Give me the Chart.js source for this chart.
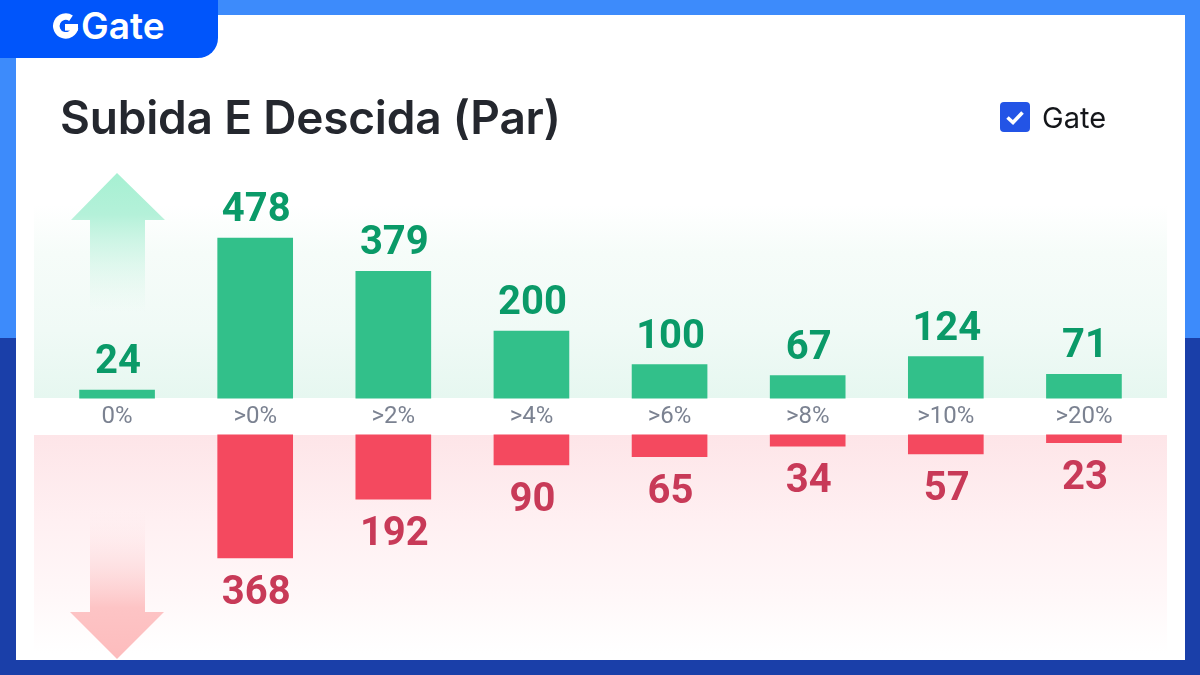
<!DOCTYPE html>
<html>
<head>
<meta charset="utf-8">
<title>Subida E Descida (Par)</title>
<script src="https://cdn.jsdelivr.net/npm/chart.js@4"></script>
<style>
    html, body { margin: 0; padding: 0; }
    body { width: 1200px; height: 675px; position: relative; overflow: hidden; background: linear-gradient(#3d8bfb 0 338px, #1a3fa9 338px); font-family: Inter, sans-serif; }
    .card { position: absolute; left: 16px; top: 15px; width: 1169px; height: 645px; background: #fff; }
    .tab { position: absolute; left: 0; top: 0; width: 218px; height: 58px; background: #0055fb; border-bottom-right-radius: 20px; }
    .brand { position: absolute; left: 81px; top: 7px; color: #fff; font-size: 37px; font-weight: 600; line-height: 38px; letter-spacing: 0; }
    h1 { position: absolute; left: 60px; top: 87px; margin: 0; font-size: 46px; line-height: 60px; font-weight: 600; color: #24272e; letter-spacing: -0.2px; white-space: nowrap; }
    .check { position: absolute; left: 1000px; top: 102px; width: 30px; height: 30px; background: #2354e6; border-radius: 4px; }
    .legend { position: absolute; left: 1042px; top: 100px; font-size: 29px; line-height: 36px; color: #14161a; }
    .band { position: absolute; left: 34px; width: 1133px; }
    .band.up { top: 205px; height: 193px; background: linear-gradient(rgba(246,252,249,0), #f6fcf9 25%, #f0faf6 65%, #e6f7f0); }
    .band.down { top: 435px; height: 218px; background: linear-gradient(#fde5e8, #fff0f2 40%, #fff7f8 72%, rgba(255,247,248,0)); }
    svg.deco { position: absolute; left: 0; top: 0; }
    canvas { position: absolute; left: 0; top: 0; }
</style>
</head>
<body>
<div class="card"></div>
<div class="band up"></div>
<div class="band down"></div>
<svg class="deco" width="1200" height="675">
    <defs>
        <linearGradient id="fadeUp" gradientUnits="userSpaceOnUse" x1="0" y1="173" x2="0" y2="312">
            <stop offset="0" stop-color="#a6f0d2"/>
            <stop offset="0.3" stop-color="#b4f1d9"/>
            <stop offset="1" stop-color="#d8f5e9" stop-opacity="0"/>
        </linearGradient>
        <linearGradient id="fadeDown" gradientUnits="userSpaceOnUse" x1="0" y1="659" x2="0" y2="512">
            <stop offset="0" stop-color="#fdbcbd"/>
            <stop offset="0.35" stop-color="#fdc4c5"/>
            <stop offset="1" stop-color="#fde4e7" stop-opacity="0"/>
        </linearGradient>
    </defs>
    <polygon points="117,173 165,220 145,220 145,312 90,312 90,220 71,220" fill="url(#fadeUp)"/>
    <polygon points="117,659 164,612 145,612 145,512 90,512 90,612 70,612" fill="url(#fadeDown)"/>
</svg>
<canvas id="chart" width="1200" height="675"></canvas>
<div class="tab">
    <svg width="218" height="58" style="position:absolute;left:0;top:0">
        <path d="M71 18.2 A9.4 9.4 0 1 0 75 27.5" fill="none" stroke="#fff" stroke-width="6.6"/>
        <rect x="65" y="24" width="13" height="6.6" fill="#fff"/>
    </svg>
    <div class="brand">Gate</div>
</div>
<h1>Subida E Descida (Par)</h1>
<div class="check">
    <svg width="30" height="30"><path d="M7.5 15.5 L13 20.5 L22.5 10.5" fill="none" stroke="#fff" stroke-width="3.6"/></svg>
</div>
<div class="legend">Gate</div>
<script>
// values
const categories = ['0%', '>0%', '>2%', '>4%', '>6%', '>8%', '>10%', '>20%'];
const riseValues = [24, 478, 379, 200, 100, 67, 124, 71];
const fallValues = [null, 368, 192, 90, 65, 34, 57, 23];

// prints the value next to each bar
const valueLabels = {
    id: 'valueLabels',
    afterDatasetsDraw(chart) {
        const ctx = chart.ctx;
        ctx.save();
        ctx.font = 'bold 40px Roboto, sans-serif';
        ctx.textAlign = 'center';
        ctx.textBaseline = 'middle';
        chart.data.datasets.forEach((dataset, i) => {
            ctx.fillStyle = dataset.labelColor;
            chart.getDatasetMeta(i).data.forEach((bar, j) => {
                if (dataset.data[j] === null) return;
                const y = i === 0 ? bar.y - 27 : bar.y + 36;
                ctx.fillText(String(dataset.data[j]), bar.x + 1, y);
            });
        });
        ctx.restore();
    }
};

new Chart(document.getElementById('chart').getContext('2d'), {
    type: 'bar',
    data: {
        labels: categories,
        datasets: [
            { label: 'Subida', data: riseValues, yAxisID: 'y', backgroundColor: '#32c08a', labelColor: '#0a9a68' },
            { label: 'Descida', data: fallValues, yAxisID: 'yDown', backgroundColor: '#f4495f', labelColor: '#c83a58' }
        ]
    },
    plugins: [valueLabels],
    options: {
        responsive: false,
        animation: false,
        layout: { padding: { left: 48, right: 47, top: 198, bottom: 15 } },
        plugins: { legend: { display: false }, tooltip: { enabled: false } },
        datasets: { bar: { grouped: false, barThickness: 75 } },
        scales: {
            x: {
                position: { y: 0 },
                grid: { display: false },
                border: { display: false },
                ticks: { color: '#7b8291', font: { family: 'Roboto, sans-serif', size: 24 }, padding: -3, maxRotation: 0, autoSkip: false }
            },
            // both scales have the same px per unit, zero sits at 398 and 435
            y: { display: false, min: -783, max: 598 },
            yDown: { display: false, reverse: true, min: -708, max: 673 }
        }
    }
});
</script>
</body>
</html>
